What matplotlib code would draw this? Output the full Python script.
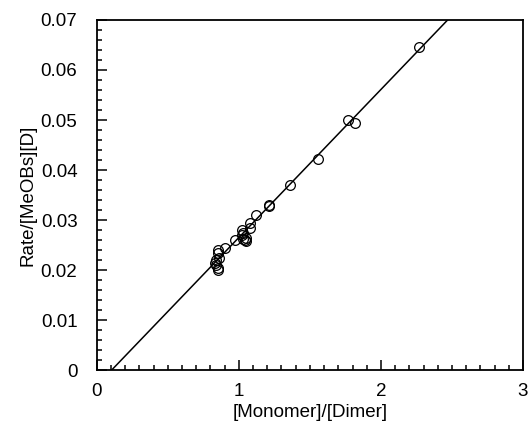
import numpy as np
import matplotlib.pyplot as plt
from matplotlib.ticker import MultipleLocator

plt.rcParams['font.family'] = ['Liberation Sans', 'DejaVu Sans']

# [Monomer]/[Dimer] vs Rate/[MeOBs][D]
ratio = [0.85, 0.85, 0.84, 0.83, 0.84, 0.85, 0.85, 0.86, 0.90, 0.97,
         1.02, 1.03, 1.02, 1.04, 1.05, 1.03, 1.05, 1.08, 1.08, 1.12,
         1.21, 1.21, 1.36, 1.56, 1.77, 1.82, 2.27]
rate = [0.0240, 0.0235, 0.0220, 0.0215, 0.0210, 0.0205, 0.0200, 0.0225, 0.0245, 0.0260,
        0.0270, 0.0275, 0.0280, 0.0260, 0.0265, 0.0262, 0.0258, 0.0285, 0.0295, 0.0310,
        0.0330, 0.0328, 0.0370, 0.0422, 0.0500, 0.0495, 0.0645]

# fitted line
slope = 0.0296
intercept = -0.0031

fig = plt.figure(figsize=(5.32, 4.30), dpi=100)
ax = fig.add_axes([0.182, 0.1395, 0.801, 0.814])

ax.plot(ratio, rate, 'o', mfc='none', mec='black', ms=7, mew=0.9)
xl = np.array([0, 3])
ax.plot(xl, slope * xl + intercept, color='black', lw=1.1)

ax.set_xlim(0, 3)
ax.set_ylim(0, 0.07)
ax.xaxis.set_major_locator(MultipleLocator(1))
ax.xaxis.set_minor_locator(MultipleLocator(0.1))
ax.yaxis.set_major_locator(MultipleLocator(0.01))
ax.yaxis.set_minor_locator(MultipleLocator(0.002))
ax.set_yticks([0, 0.01, 0.02, 0.03, 0.04, 0.05, 0.06, 0.07])
ax.set_yticklabels(['0', '0.01', '0.02', '0.03', '0.04', '0.05', '0.06', '0.07'])
ax.tick_params(which='both', direction='in', top=False, right=False, labelsize=13.5, width=1.1)
ax.tick_params(axis='y', which='major', length=7, pad=14)
ax.tick_params(axis='x', which='major', length=7, pad=9)
ax.tick_params(which='minor', length=3.5)
for s in ax.spines.values():
    s.set_linewidth(1.3)

ax.set_xlabel('[Monomer]/[Dimer]', fontsize=13.5, labelpad=3)
ax.set_ylabel('Rate/[MeOBs][D]', fontsize=13.5, labelpad=3)

fig.savefig('out.png', dpi=100)
